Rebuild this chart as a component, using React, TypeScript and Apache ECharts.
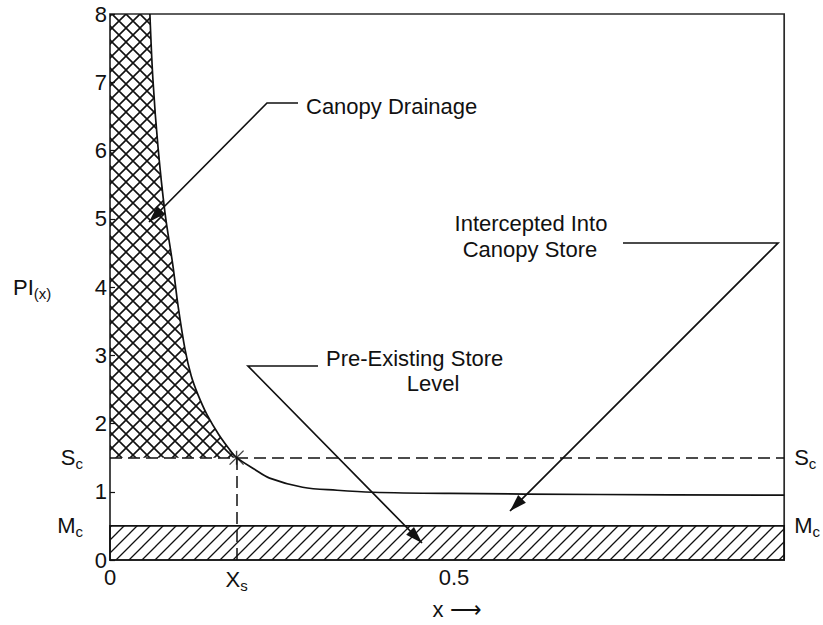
import React, { useEffect, useRef } from 'react';
import * as echarts from 'echarts';

// ---- data ----
const xMax = 0.98;
const yMax = 8;
const Sc = 1.5; // canopy store capacity
const Mc = 0.5; // pre-existing store level
const Xs = 0.184;
const yTickValues = [0, 1, 2, 3, 4, 5, 6, 7, 8];
const yLabelValues = [0, 0.5, 1, 1.5, 2, 3, 4, 5, 6, 7, 8];
const xLabelValues = [0, Xs, 0.5];
const xLabelTexts = ['{n|0}', '{m|X}{sub|s}', '{n|0.5}'];
const curveX = [0.058, 0.0624, 0.0697, 0.0799, 0.0915, 0.099, 0.109, 0.118, 0.128, 0.141, 0.158, 0.176, 0.184, 0.21, 0.232, 0.28, 0.33, 0.382, 0.494, 0.711, 0.98];
const curveY = [8, 7.04, 6.06, 5.09, 4.31, 3.72, 3.09, 2.7, 2.42, 2.13, 1.84, 1.59, 1.5, 1.33, 1.2, 1.066, 1.022, 0.993, 0.975, 0.96, 0.95];

const FONT = 'Liberation Sans, Arial, Helvetica, sans-serif';
const INK = '#111';
const FS = 22;

function makeCross(): HTMLCanvasElement {
  const c = document.createElement('canvas');
  const s = 14;
  c.width = s; c.height = s;
  const g = c.getContext('2d')!;
  g.strokeStyle = INK; g.lineWidth = 1.6;
  g.beginPath();
  g.moveTo(-1, -1); g.lineTo(s + 1, s + 1);
  g.moveTo(-1, s + 1); g.lineTo(s + 1, -1);
  g.stroke();
  return c;
}
function makeDiag(): HTMLCanvasElement {
  const c = document.createElement('canvas');
  const s = 13;
  c.width = s; c.height = s;
  const g = c.getContext('2d')!;
  g.strokeStyle = INK; g.lineWidth = 1.3;
  g.beginPath();
  g.moveTo(-1, s + 1); g.lineTo(s + 1, -1);
  g.moveTo(-2, 2); g.lineTo(2, -2);
  g.moveTo(s - 2, s + 2); g.lineTo(s + 2, s - 2);
  g.stroke();
  return c;
}

function arrowHead(fx: number, fy: number, tx: number, ty: number) {
  const dx = tx - fx, dy = ty - fy;
  const len = Math.hypot(dx, dy);
  const ux = dx / len, uy = dy / len;
  const L = 17, W = 5.5;
  const bx = tx - ux * L, by = ty - uy * L;
  return {
    type: 'polygon',
    shape: { points: [[tx, ty], [bx - uy * W, by + ux * W], [bx + uy * W, by - ux * W]] },
    style: { fill: INK },
    silent: true,
  };
}

function leader(points: number[][]) {
  const n = points.length;
  return [
    { type: 'polyline', shape: { points }, style: { stroke: INK, lineWidth: 1.7, fill: 'none' }, silent: true },
    arrowHead(points[n - 2][0], points[n - 2][1], points[n - 1][0], points[n - 1][1]),
  ];
}

function txt(x: number, y: number, text: string, align: string) {
  return { type: 'text', x, y, silent: true, style: { text, fill: INK, font: `${FS}px ${FONT}`, align, verticalAlign: 'middle' } };
}

const subRich = {
  m: { fontSize: FS, fontFamily: FONT, color: INK },
  sub: { fontSize: 15, fontFamily: FONT, color: INK, padding: [12, 0, 0, 0] },
  n: { fontSize: FS, fontFamily: FONT, color: INK },
};

export default function App() {
  const ref = useRef<HTMLDivElement>(null);
  useEffect(() => {
    if (!ref.current) return;
    const chart = echarts.init(ref.current, null, { renderer: 'svg' });
    const cross = makeCross();
    const diag = makeDiag();
    const curve = curveX.map((x, i) => [x, curveY[i]]);
    const drain: number[][] = [[0, yMax]];
    curve.forEach((p) => { if (p[0] <= Xs + 1e-9) drain.push(p); });
    drain.push([0, Sc]);

    chart.setOption({
      animation: false,
      backgroundColor: '#fff',
      grid: { left: 110, right: 38, top: 14, bottom: 63, show: true, borderColor: '#2a2a2a', borderWidth: 1.7, containLabel: false },
      xAxis: {
        type: 'value', min: 0, max: xMax,
        axisLine: { show: false }, axisTick: { show: false }, splitLine: { show: false },
        axisLabel: {
          customValues: xLabelValues, margin: 6, color: INK, fontSize: FS, fontFamily: FONT,
          formatter: (v: number) => { const i = xLabelValues.findIndex((u) => Math.abs(u - v) < 1e-6); return i >= 0 ? xLabelTexts[i] : ''; },
          rich: subRich,
        },
        name: 'x ⟶', nameLocation: 'middle', nameGap: 38,
        nameTextStyle: { fontSize: FS, fontFamily: FONT, color: INK, padding: [0, 0, 0, 20] },
      },
      yAxis: [
        {
          type: 'value', min: 0, max: yMax, interval: 1,
          axisLine: { show: false }, splitLine: { show: false },
          axisTick: { show: true, inside: true, length: 5, customValues: yTickValues, lineStyle: { color: INK, width: 1.2 } },
          axisLabel: {
            customValues: yLabelValues, margin: 3, color: INK,
            formatter: (v: number) => (v === Sc ? '{m|S}{sub|c}{gap|}' : v === Mc ? '{m|M}{sub|c}{gap|}' : `{n|${v}}`),
            rich: { ...subRich, gap: { width: 24 } },
          },
          name: '{m|PI}{sub|(x)}', nameLocation: 'middle', nameRotate: 0, nameGap: 58,
          nameTextStyle: { rich: subRich },
        },
        {
          type: 'value', min: 0, max: yMax, position: 'right',
          axisLine: { show: false }, axisTick: { show: false }, splitLine: { show: false },
          axisLabel: {
            customValues: [Mc, Sc], margin: 10, color: INK,
            formatter: (v: number) => (v === Sc ? '{m|S}{sub|c}' : '{m|M}{sub|c}'),
            rich: subRich,
          },
        },
      ],
      series: [
        {
          type: 'custom',
          silent: true,
          z: 1,
          data: [[0, 0]],
          renderItem: (_p: any, api: any) => ({
            type: 'polygon',
            shape: { points: drain.map((d) => api.coord(d)) },
            style: { fill: { image: cross, repeat: 'repeat' }, stroke: 'none' },
          }),
        },
        {
          type: 'line',
          data: curve,
          smooth: 0.35,
          showSymbol: false,
          silent: true,
          z: 3,
          lineStyle: { color: INK, width: 1.7 },
          markArea: {
            silent: true,
            itemStyle: { color: { image: diag, repeat: 'repeat' }, borderColor: INK, borderWidth: 1.7 },
            label: { show: false },
            data: [[{ coord: [0, 0] }, { coord: [xMax, Mc] }]],
          },
          markLine: {
            silent: true,
            symbol: 'none',
            label: { show: false },
            lineStyle: { color: INK, width: 1.5, type: [12, 6] },
            data: [
              [{ coord: [0, Sc] }, { coord: [xMax, Sc] }],
              [{ coord: [Xs, 0] }, { coord: [Xs, Sc] }],
            ],
          },
        },
        {
          type: 'scatter',
          silent: true,
          z: 4,
          data: [[Xs, Sc]],
          symbol: 'path://M0 0L10 10M10 0L0 10M5 0L5 10',
          symbolSize: 14,
          itemStyle: { color: 'none', borderColor: INK, borderWidth: 1.4 },
        },
      ],
      graphic: [
        txt(306, 106, 'Canopy Drainage', 'left'),
        ...leader([[298, 103], [267, 103], [149, 222]]),
        txt(531, 223, 'Intercepted Into', 'center'),
        txt(530, 249, 'Canopy Store', 'center'),
        ...leader([[623, 243], [778, 243], [510, 511]]),
        txt(326, 358, 'Pre-Existing Store', 'left'),
        txt(433, 383, 'Level', 'center'),
        ...leader([[318, 366], [248, 366], [422, 543]]),
      ],
    });
    return () => chart.dispose();
  }, []);
  return <div ref={ref} style={{ position: 'fixed', left: 0, top: 0, width: 823, height: 625 }} />;
}
